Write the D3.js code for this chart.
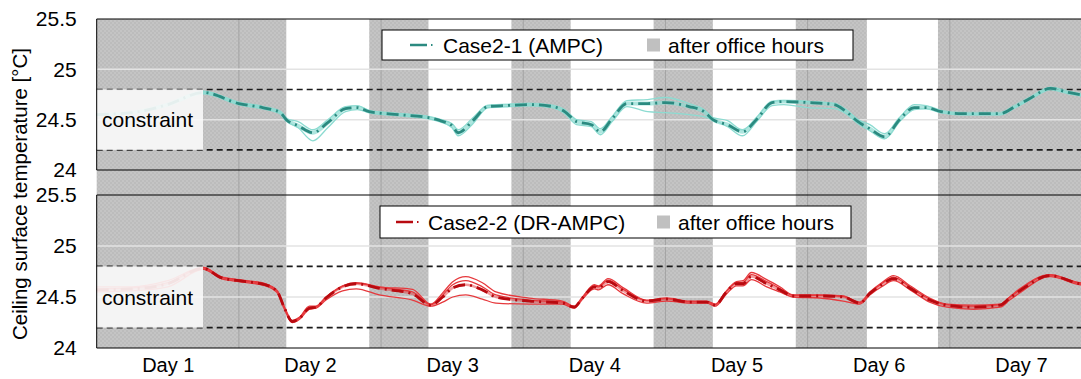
<!DOCTYPE html>
<html>
<head>
<meta charset="utf-8">
<script src="https://cdn.jsdelivr.net/npm/d3@7"></script>
<style>
  body { margin: 0; background: #fff; }
  text { font-family: "Liberation Sans", Arial, sans-serif; fill: #000; }
</style>
</head>
<body>
<svg id="chart" width="1081" height="379"></svg>
<script>
// --- data (hours from start of Day 1, temperature in degC) ---
const hoursA = [0, 6, 12, 18, 24, 28, 31, 32, 34, 36.5, 39, 42, 44, 46, 51, 56, 58, 60, 61, 63.5, 66, 69, 73, 77, 79, 81, 83.5, 85, 87, 89.5, 93, 96, 100, 102.5, 104, 106.5, 109, 111.5, 114, 116, 120, 124.5, 126.5, 128.5, 130.5, 133, 135.5, 138, 140, 142.5, 146, 152.5, 155, 157.5, 161, 164, 168];
const case21Main  = [24.55, 24.57, 24.65, 24.77, 24.66, 24.62, 24.57, 24.50, 24.44, 24.37, 24.47, 24.61, 24.62, 24.58, 24.55, 24.52, 24.49, 24.44, 24.37, 24.49, 24.63, 24.64, 24.65, 24.63, 24.58, 24.48, 24.45, 24.38, 24.51, 24.66, 24.66, 24.67, 24.63, 24.58, 24.50, 24.45, 24.38, 24.51, 24.67, 24.68, 24.67, 24.65, 24.58, 24.48, 24.41, 24.33, 24.50, 24.62, 24.62, 24.58, 24.56, 24.56, 24.63, 24.71, 24.81, 24.77, 24.73];
const case21Upper = [24.55, 24.57, 24.66, 24.78, 24.67, 24.63, 24.58, 24.51, 24.48, 24.40, 24.50, 24.63, 24.64, 24.59, 24.56, 24.53, 24.50, 24.46, 24.40, 24.52, 24.64, 24.65, 24.66, 24.64, 24.60, 24.50, 24.48, 24.41, 24.53, 24.69, 24.70, 24.72, 24.66, 24.60, 24.52, 24.49, 24.40, 24.53, 24.68, 24.69, 24.68, 24.66, 24.60, 24.50, 24.45, 24.36, 24.52, 24.65, 24.64, 24.59, 24.56, 24.56, 24.63, 24.71, 24.82, 24.77, 24.73];
const case21Lower = [24.55, 24.57, 24.64, 24.76, 24.65, 24.61, 24.56, 24.49, 24.42, 24.29, 24.42, 24.58, 24.60, 24.57, 24.54, 24.51, 24.48, 24.42, 24.34, 24.46, 24.62, 24.63, 24.64, 24.62, 24.56, 24.45, 24.43, 24.35, 24.48, 24.63, 24.58, 24.57, 24.55, 24.53, 24.50, 24.43, 24.34, 24.49, 24.64, 24.65, 24.62, 24.61, 24.56, 24.46, 24.39, 24.31, 24.48, 24.60, 24.61, 24.57, 24.55, 24.55, 24.62, 24.70, 24.80, 24.76, 24.72];

const hoursB = [0, 6, 12, 18, 21, 24, 28.5, 30.5, 31.7, 33, 34.2, 35.9, 37, 38.7, 41.5, 43.8, 47.7, 53.3, 56.4, 58.4, 60.1, 62.3, 65.1, 67.4, 73, 78.6, 80.6, 82, 84, 84.7, 86.3, 88.9, 92.8, 96.2, 100.1, 103, 104.4, 106.3, 108, 109.1, 110.5, 113.1, 115.3, 117.6, 122.1, 126, 128.8, 130.5, 132.5, 134.5, 137.3, 140.6, 143.5, 148, 152.5, 154.1, 155.8, 160.9, 166, 168];
const case22Main  = [24.57, 24.58, 24.63, 24.78, 24.69, 24.66, 24.62, 24.55, 24.39, 24.26, 24.29, 24.39, 24.40, 24.49, 24.60, 24.63, 24.585, 24.53, 24.42, 24.50, 24.59, 24.62, 24.57, 24.50, 24.46, 24.44, 24.40, 24.49, 24.60, 24.59, 24.65, 24.56, 24.46, 24.48, 24.45, 24.45, 24.42, 24.55, 24.63, 24.63, 24.70, 24.63, 24.57, 24.51, 24.51, 24.50, 24.44, 24.535, 24.62, 24.68, 24.585, 24.47, 24.42, 24.40, 24.42, 24.49, 24.56, 24.71, 24.63, 24.62];
const case22Upper = [24.60, 24.60, 24.66, 24.79, 24.70, 24.67, 24.63, 24.56, 24.40, 24.27, 24.30, 24.41, 24.41, 24.50, 24.61, 24.64, 24.60, 24.575, 24.43, 24.54, 24.65, 24.70, 24.64, 24.55, 24.49, 24.46, 24.41, 24.50, 24.62, 24.61, 24.68, 24.59, 24.47, 24.49, 24.46, 24.46, 24.43, 24.56, 24.65, 24.66, 24.74, 24.67, 24.60, 24.52, 24.52, 24.51, 24.45, 24.55, 24.64, 24.71, 24.61, 24.49, 24.43, 24.42, 24.43, 24.50, 24.58, 24.72, 24.64, 24.63];
const case22Mid   = [24.58, 24.59, 24.64, 24.785, 24.695, 24.665, 24.625, 24.555, 24.39, 24.265, 24.295, 24.40, 24.405, 24.495, 24.605, 24.635, 24.595, 24.55, 24.425, 24.52, 24.62, 24.66, 24.60, 24.52, 24.47, 24.45, 24.405, 24.495, 24.61, 24.60, 24.665, 24.575, 24.465, 24.485, 24.455, 24.455, 24.425, 24.555, 24.64, 24.645, 24.72, 24.65, 24.585, 24.515, 24.515, 24.505, 24.445, 24.54, 24.63, 24.695, 24.595, 24.48, 24.425, 24.41, 24.425, 24.495, 24.57, 24.715, 24.635, 24.625];
const case22Lower = [24.55, 24.56, 24.60, 24.77, 24.68, 24.65, 24.61, 24.54, 24.38, 24.25, 24.28, 24.38, 24.39, 24.47, 24.56, 24.58, 24.52, 24.47, 24.41, 24.45, 24.50, 24.52, 24.48, 24.44, 24.43, 24.43, 24.39, 24.48, 24.58, 24.57, 24.62, 24.53, 24.44, 24.46, 24.44, 24.44, 24.41, 24.53, 24.61, 24.61, 24.67, 24.60, 24.55, 24.50, 24.49, 24.46, 24.43, 24.52, 24.60, 24.66, 24.57, 24.45, 24.40, 24.38, 24.40, 24.47, 24.54, 24.70, 24.62, 24.61];

const afterHours = [[0, 32], [46, 56], [70, 80], [94, 104], [118, 130], [142, 168]];
const dayLabels = ['Day 1', 'Day 2', 'Day 3', 'Day 4', 'Day 5', 'Day 6', 'Day 7'];
const dayCenters = [12, 36, 60, 84, 108, 132, 156];
const dayBounds = [24, 48, 72, 96, 120, 144];
const yTicks = [24, 24.5, 25, 25.5];
const gridValues = [24.5, 25];
const constraint = [24.2, 24.8];

// --- layout ---
const svg = d3.select('#chart');
const left = 96.7, right = 1092;
const panels = [
  { top: 19, bottom: 170, hours: hoursA, label: 'Case2-1 (AMPC)', main: '#2b8a80', thin: '#8cdbd1', under: 4, underOp: 0.7,
    series: [case21Upper, case21Lower], mainData: case21Main,
    legend: { x: 382, y: 30, w: 471, h: 30, lineX: 410, textX: 443, boxX: 647, boxText: 668 } },
  { top: 195, bottom: 348, hours: hoursB, label: 'Case2-2 (DR-AMPC)', main: '#b80a10', thin: '#e6393d', under: 2.5, underOp: 0.5,
    series: [case22Upper, case22Mid, case22Lower], mainData: case22Main,
    legend: { x: 380, y: 206, w: 471, h: 32, lineX: 396, textX: 428, boxX: 657, boxText: 678 } }
];

const x = d3.scaleLinear().domain([0, 168]).range([left, right]);

// textured gray for after-office-hours
const defs = svg.append('defs');
const pat = defs.append('pattern').attr('id', 'grayTex').attr('width', 4).attr('height', 4)
  .attr('patternUnits', 'userSpaceOnUse');
pat.append('rect').attr('width', 4).attr('height', 4).attr('fill', '#c4c4c4');
pat.append('rect').attr('width', 2).attr('height', 2).attr('fill', '#bcbcbc');
pat.append('rect').attr('x', 2).attr('y', 2).attr('width', 2).attr('height', 2).attr('fill', '#bcbcbc');

defs.append('clipPath').attr('id', 'plotClip').append('rect')
  .attr('x', left).attr('y', 0).attr('width', right - left).attr('height', 379);

// shading spans both panels
svg.append('g').selectAll('rect').data(afterHours).join('rect')
  .attr('x', d => x(d[0])).attr('width', d => x(d[1]) - x(d[0]))
  .attr('y', panels[0].top).attr('height', panels[1].bottom - panels[0].top)
  .attr('fill', 'url(#grayTex)');

// day boundary lines
svg.append('g').selectAll('line').data(dayBounds).join('line')
  .attr('x1', d => x(d)).attr('x2', d => x(d))
  .attr('y1', panels[0].top).attr('y2', panels[1].bottom)
  .attr('stroke', '#a3a3a3').attr('stroke-width', 1);

panels.forEach(p => {
  const y = d3.scaleLinear().domain([24, 25.5]).range([p.bottom, p.top]);
  const g = svg.append('g');

  g.selectAll('.grid').data(gridValues).join('line')
    .attr('x1', left).attr('x2', right).attr('y1', d => y(d)).attr('y2', d => y(d))
    .attr('stroke', '#e3e3e3').attr('stroke-width', 1.5);

  g.selectAll('.con').data(constraint).join('line')
    .attr('x1', left).attr('x2', right).attr('y1', d => y(d)).attr('y2', d => y(d))
    .attr('stroke', '#1a1a1a').attr('stroke-width', 1.6).attr('stroke-dasharray', '6,4');

  const line = d3.line().x(d => x(d[0])).y(d => y(d[1])).curve(d3.curveMonotoneX);
  const lines = g.append('g').attr('clip-path', 'url(#plotClip)');
  const pair = arr => p.hours.map((h, i) => [h, arr[i]]);

  lines.append('path').attr('d', line(pair(p.mainData))).attr('fill', 'none')
    .attr('stroke', p.thin).attr('stroke-width', p.under).attr('opacity', p.underOp);
  p.series.forEach(s => {
    lines.append('path').attr('d', line(pair(s))).attr('fill', 'none')
      .attr('stroke', p.thin).attr('stroke-width', 1.3);
  });
  lines.append('path').attr('d', line(pair(p.mainData))).attr('fill', 'none')
    .attr('stroke', p.main).attr('stroke-width', 2.8).attr('stroke-dasharray', '12,5,2,5');

  // constraint label box
  g.append('rect').attr('x', left).attr('y', y(constraint[1]))
    .attr('width', 203 - left).attr('height', y(constraint[0]) - y(constraint[1]))
    .attr('fill', '#fafafa').attr('opacity', 0.9);
  g.append('text').attr('x', 102).attr('y', (y(constraint[0]) + y(constraint[1])) / 2 + 7.5)
    .attr('font-size', 21).text('constraint');

  // frame
  g.append('line').attr('x1', left).attr('x2', right).attr('y1', p.top).attr('y2', p.top).attr('stroke', '#000');
  g.append('line').attr('x1', left).attr('x2', right).attr('y1', p.bottom).attr('y2', p.bottom).attr('stroke', '#000');
  g.append('line').attr('x1', left).attr('x2', left).attr('y1', p.top).attr('y2', p.bottom).attr('stroke', '#000');

  // y axis
  const ax = g.append('g').attr('transform', `translate(${left},0)`)
    .call(d3.axisLeft(y).tickValues(yTicks).tickSize(0).tickPadding(20).tickFormat(d3.format('')));
  ax.select('.domain').remove();
  ax.selectAll('text').attr('font-size', 21).attr('font-family', '"Liberation Sans", Arial, sans-serif').attr('fill', '#000');

  // legend
  const L = p.legend;
  const lg = g.append('g');
  lg.append('rect').attr('x', L.x).attr('y', L.y).attr('width', L.w).attr('height', L.h)
    .attr('fill', '#fff').attr('stroke', '#000').attr('stroke-width', 1);
  const ly = L.y + L.h / 2;
  lg.append('line').attr('x1', L.lineX).attr('x2', L.lineX + 17).attr('y1', ly).attr('y2', ly)
    .attr('stroke', p.main).attr('stroke-width', 2.5);
  lg.append('line').attr('x1', L.lineX + 21).attr('x2', L.lineX + 22.5).attr('y1', ly).attr('y2', ly)
    .attr('stroke', p.main).attr('stroke-width', 2);
  lg.append('text').attr('x', L.textX).attr('y', ly + 7.5).attr('font-size', 21).text(p.label);
  lg.append('rect').attr('x', L.boxX).attr('y', ly - 6.5).attr('width', 13).attr('height', 13).attr('fill', '#c0c0c0');
  lg.append('text').attr('x', L.boxText).attr('y', ly + 7.5).attr('font-size', 21).text('after office hours');
});

// x labels
const xa = svg.append('g').attr('transform', `translate(0,${panels[1].bottom})`)
  .call(d3.axisBottom(x).tickValues(dayCenters).tickSize(0).tickPadding(10)
    .tickFormat((d, i) => dayLabels[i]));
xa.select('.domain').remove();
xa.selectAll('text').attr('font-size', 20).attr('font-family', '"Liberation Sans", Arial, sans-serif').attr('fill', '#000');

// y title
svg.append('text').attr('transform', 'translate(27,194) rotate(-90)')
  .attr('text-anchor', 'middle').attr('font-size', 20.5)
  .text('Ceiling surface temperature [°C]');
</script>
</body>
</html>
